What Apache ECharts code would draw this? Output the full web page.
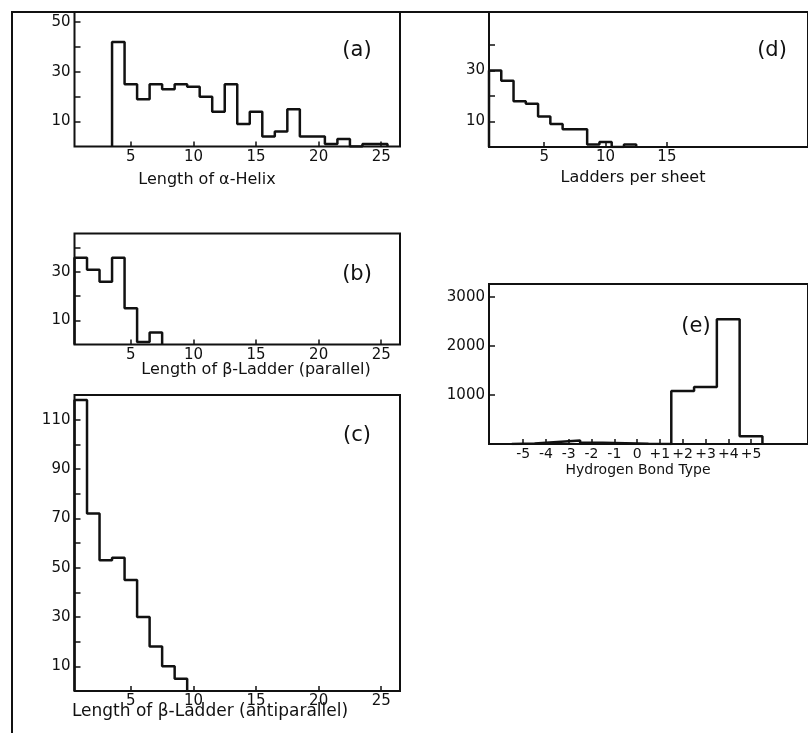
<!DOCTYPE html>
<html lang="en">
<head>
    <meta charset="UTF-8">
    <title>Secondary structure histograms</title>
    <script src="https://cdn.jsdelivr.net/npm/echarts@6.0.0/dist/echarts.min.js"></script>
    <style>
        html, body { margin: 0; padding: 0; background: #fff; }
    </style>
</head>
<body>
<div id="main" style="width: 808px;height:733px;"></div>
<script type="text/javascript">
    // (a) length of alpha-helix
    var helixLength = [4, 5, 6, 7, 8, 9, 10, 11, 12, 13, 14, 15, 16, 17, 18, 19, 20, 21, 22, 23, 24, 25];
    var helixCount = [42, 25, 19, 25, 23, 25, 24, 20, 14, 25, 9, 14, 4, 6, 15, 4, 4, 1, 3, 0, 1, 1];

    // (b) length of beta-ladder, parallel
    var parallelLength = [1, 2, 3, 4, 5, 6, 7];
    var parallelCount = [36, 31, 26, 36, 15, 1, 5];

    // (c) length of beta-ladder, antiparallel
    var antiLength = [1, 2, 3, 4, 5, 6, 7, 8, 9];
    var antiCount = [118, 72, 53, 54, 45, 30, 18, 10, 5];

    // (d) ladders per sheet
    var sheetLadders = [1, 2, 3, 4, 5, 6, 7, 8, 9, 10, 11, 12];
    var sheetCount = [30, 26, 18, 17, 12, 9, 7, 7, 1, 2, 0, 1];

    // (e) hydrogen bond type
    var bondType = [-5, -4, -3, -2, -1, 0, 1, 2, 3, 4, 5];
    var bondCount = [10, 40, 70, 25, 15, 5, 0, 1080, 1160, 2540, 160];

    // tick values
    var lengthTicks = [5, 10, 15, 20, 25];
    var sheetTicks = [5, 10, 15];
    var bondTicks = [-5, -4, -3, -2, -1, 0, 1, 2, 3, 4, 5];
    var helixYTicks = [10, 20, 30, 40, 50];
    var helixYLabels = [10, 30, 50];
    var parallelYTicks = [10, 20, 30, 40];
    var parallelYLabels = [10, 30];
    var antiYTicks = [10, 20, 30, 40, 50, 60, 70, 80, 90, 100, 110];
    var antiYLabels = [10, 30, 50, 70, 90, 110];
    var sheetYTicks = [10, 20, 30, 40];
    var sheetYLabels = [10, 30];
    var bondYTicks = [1000, 2000, 3000];

    var ink = '#111';
    var font = 'DejaVu Sans';

    // histogram outline: bins centred on integers, drawn as a step line
    function outline(bins, counts) {
        var pts = [[bins[0] - 0.5, 0]];
        for (var i = 0; i < bins.length; i++) {
            pts.push([bins[i] - 0.5, counts[i]]);
        }
        pts.push([bins[bins.length - 1] + 0.5, 0]);
        return pts;
    }

    function plain(v) { return String(v); }

    function xAxis(idx, min, max, ticks, fmt, size) {
        return {
            type: 'value', gridIndex: idx, min: min, max: max,
            axisLine: {show: false, onZero: false},
            splitLine: {show: false},
            axisTick: {inside: true, length: 5, customValues: ticks, lineStyle: {color: ink, width: 1.5}},
            axisLabel: {customValues: ticks, margin: 3, color: ink, fontFamily: font,
                fontSize: size || 15, formatter: fmt || plain}
        };
    }

    function yAxis(idx, max, ticks, labels) {
        return {
            type: 'value', gridIndex: idx, min: 0, max: max,
            axisLine: {show: false, onZero: false},
            splitLine: {show: false},
            axisTick: {inside: true, length: 6, customValues: ticks, lineStyle: {color: ink, width: 1.5}},
            axisLabel: {customValues: labels, margin: 4, color: ink, fontFamily: font, fontSize: 15,
                formatter: plain}
        };
    }

    function grid(left, top, width, height) {
        return {left: left, top: top, width: width, height: height, show: true,
            borderColor: ink, borderWidth: 2, backgroundColor: 'transparent'};
    }

    function hist(idx, bins, counts) {
        return {
            type: 'line', xAxisIndex: idx, yAxisIndex: idx, step: 'end',
            symbol: 'none', silent: true,
            lineStyle: {color: ink, width: 2.5},
            data: outline(bins, counts)
        };
    }

    function label(text, x, y, size) {
        return {type: 'text', style: {text: text, x: x, y: y, fill: ink,
            font: size + 'px "' + font + '"', align: 'center', verticalAlign: 'middle'}};
    }

    var myChart = echarts.init(document.getElementById('main'));

    var option = {
        animation: false,
        backgroundColor: '#fff',
        grid: [
            grid(74.5, 12, 325.5, 134.5),
            grid(74.5, 233.5, 325.5, 111),
            grid(74.5, 395, 325.5, 296),
            grid(489, 12, 328, 135),
            grid(489, 284, 350, 160)
        ],
        xAxis: [
            xAxis(0, 0.5, 26.5, lengthTicks),
            xAxis(1, 0.5, 26.5, lengthTicks),
            xAxis(2, 0.5, 26.5, lengthTicks),
            xAxis(3, 0.5, 26.5, sheetTicks),
            xAxis(4, -6.5, 7.5, bondTicks, function (v) { return v > 0 ? '+' + v : String(v); }, 14)
        ],
        yAxis: [
            yAxis(0, 54, helixYTicks, helixYLabels),
            yAxis(1, 46, parallelYTicks, parallelYLabels),
            yAxis(2, 120, antiYTicks, antiYLabels),
            yAxis(3, 53, sheetYTicks, sheetYLabels),
            yAxis(4, 3260, bondYTicks, bondYTicks)
        ],
        series: [
            hist(0, helixLength, helixCount),
            hist(1, parallelLength, parallelCount),
            hist(2, antiLength, antiCount),
            hist(3, sheetLadders, sheetCount),
            hist(4, bondType, bondCount)
        ],
        graphic: [
            // outer frame of the figure
            {type: 'polyline', shape: {points: [[12, 733], [12, 12], [808, 12]]},
                style: {stroke: ink, lineWidth: 2, fill: null}},
            label('(a)', 357, 51, 21),
            label('(b)', 357, 275, 21),
            label('(c)', 357, 436, 21),
            label('(d)', 772, 51, 21),
            label('(e)', 696, 327, 21),
            label('Length of \u03b1-Helix', 207, 180, 16),
            label('Length of \u03b2-Ladder (parallel)', 256, 370, 16),
            label('Length of \u03b2-Ladder (antiparallel)', 210, 712, 17),
            label('Ladders per sheet', 633, 178, 16),
            label('Hydrogen Bond Type', 638, 470, 14)
        ]
    };

    myChart.setOption(option);
</script>
</body>
</html>
